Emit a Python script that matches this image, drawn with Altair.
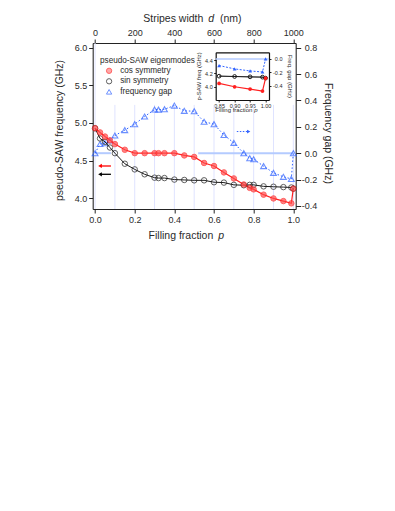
import altair as alt
import pandas as pd

# ---------------- data ----------------
p = [0.0, 0.025, 0.05, 0.075, 0.1, 0.15, 0.2, 0.25, 0.3, 0.32, 0.35, 0.4, 0.45, 0.5,
     0.55, 0.6, 0.65, 0.7, 0.75, 0.78, 0.8, 0.85, 0.9, 0.95, 0.99, 1.0]
cos_f = [4.93, 4.875, 4.82, 4.77, 4.72, 4.645, 4.60, 4.60, 4.60, 4.60, 4.60, 4.60, 4.57, 4.55,
         4.47, 4.43, 4.345, 4.265, 4.185, 4.14, 4.12, 4.05, 4.00, 3.965, 3.935, 4.13]
sin_f = [4.93, 4.795, 4.75, 4.675, 4.60, 4.46, 4.385, 4.32, 4.275, 4.27, 4.27, 4.25, 4.245, 4.24,
         4.24, 4.215, 4.21, 4.18, 4.175, 4.18, 4.18, 4.16, 4.155, 4.15, 4.145, 4.13]
gap = [0.0, 0.07, 0.076, 0.096, 0.134, 0.175, 0.22, 0.278, 0.331, 0.33, 0.333, 0.361, 0.321, 0.318,
       0.238, 0.22, 0.138, 0.078, 0.0, -0.038, -0.046, -0.098, -0.149, -0.179, -0.195, 0.0]

SERIES = ["cos symmetry", "sin symmetry", "frequency gap"]
x_ticks = [0.0, 0.2, 0.4, 0.6, 0.8, 1.0]
d_ticks = [0, 200, 400, 600, 800, 1000]
f_ticks = [4.0, 4.5, 5.0, 5.5, 6.0]
g_ticks = [-0.4, -0.2, 0.0, 0.2, 0.4, 0.6, 0.8]
inset_x_ticks = [0.85, 0.90, 0.95, 1.00]
inset_f_ticks = [4.0, 4.2, 4.4]
inset_g_ticks = [-0.4, -0.2, 0.0]

grid_d = [0, 100, 200, 300, 400, 500, 600, 700, 800, 900, 1000]
grid_top_f = [6.06, 5.24, 5.24, 5.24, 5.24, 5.24, 5.24, 5.24, 5.24, 5.24, 5.24]

zero_p_start = [0.0, 0.52]
zero_p_end = [0.08, 1.0]

arrow_tail_p = [0.08, 0.08]
arrow_head_p = [0.025, 0.025]
arrow_f = [4.43, 4.32]
arrow_col = ["red", "black"]
blue_arrow_tail_p = [0.715]
blue_arrow_head_p = [0.775]
blue_arrow_g = [0.164]

# ---------------- styles ----------------
FONT = "Liberation Sans"
RED = "#ff2020"
RED_FILL = "#ff5050"
BLACK = "#1a1a1a"
BLUE = "#2f62ff"
GRID = "#dfe3ff"
ZERO = "#b4cbff"
TXT = "#2a2a2a"
W, H = 203, 166
IX0, IX1, IYT, IYB = 123, 176.3, 9.3, 57

n = len(p)
freq_df = pd.DataFrame({"p": p + p, "f": sin_f + cos_f,
                        "series": ["sin symmetry"] * n + ["cos symmetry"] * n})
cos_df = pd.DataFrame({"p": p, "f": cos_f})
sin_df = pd.DataFrame({"p": p, "f": sin_f})
gap_df = pd.DataFrame({"p": p, "g": gap, "series": ["frequency gap"] * n})
grid_df = pd.DataFrame({"d": grid_d, "top": grid_top_f, "bot": [3.86] * len(grid_d)})
zero_df = pd.DataFrame({"p0": zero_p_start, "p1": zero_p_end, "g": [0.0, 0.0]})
arrow_df = pd.DataFrame({"p0": arrow_tail_p, "p1": arrow_head_p, "f": arrow_f, "c": arrow_col})
barrow_df = pd.DataFrame({"p0": blue_arrow_tail_p, "p1": blue_arrow_head_p, "g": blue_arrow_g})

in_cos = cos_df[cos_df.p >= 0.85]
in_sin = sin_df[sin_df.p >= 0.85]
in_gap = gap_df[gap_df.p >= 0.85]


def sc(domain, rng=None):
    if rng is None:
        return alt.Scale(domain=domain, nice=False, zero=False)
    return alt.Scale(domain=domain, range=rng, nice=False, zero=False)


X_MAIN = [-0.012, 1.012]
F_MAIN = [3.86, 6.06]
G_MAIN = [-0.423, 0.835]
D_MAIN = [-12, 1012]
X_IN = [0.839, 1.011]
F_IN = [3.80, 4.52]
G_IN = [-0.615, 0.10]

base_axis = dict(domainColor="#222", tickColor="#222", labelColor=TXT, labelFont=FONT,
                 labelFontSize=9, tickSize=4, grid=False, labelPadding=2, titleFont=FONT,
                 titleFontWeight="normal", titleFontSize=10.5, titleColor=TXT)
inset_axis = dict(base_axis, labelFontSize=5.5, tickSize=2, labelPadding=1, titleFontSize=6,
                  domainColor="#111", domainWidth=1.2)

minus = "replace(format(datum.value, '.1f'), '\u2212', '-')"

legend = alt.Legend(title="pseudo-SAW eigenmodes", orient="none", legendX=7.3, legendY=14,
                    titleFont=FONT, titleFontWeight="normal", titleFontSize=8.2, titleColor=TXT,
                    labelFont=FONT, labelFontSize=8.2, labelColor=TXT, symbolSize=28,
                    symbolStrokeWidth=1, rowPadding=0.5, padding=0, symbolOffset=5,
                    labelOffset=7, titlePadding=1.5)
stroke_enc = alt.Stroke("series:N", scale=alt.Scale(domain=SERIES, range=[RED, BLACK, BLUE]), legend=legend)
fill_enc = alt.Fill("series:N", scale=alt.Scale(domain=SERIES, range=[RED_FILL, "transparent", "transparent"]), legend=legend)
shape_enc = alt.Shape("series:N", scale=alt.Scale(domain=SERIES, range=["circle", "circle", "triangle-up"]), legend=legend)

layers = []

# grid (top d axis lives here)
layers.append(alt.Chart(grid_df).mark_rule(color=GRID, strokeWidth=1).encode(
    x=alt.X("d:Q", scale=sc(D_MAIN), axis=alt.Axis(orient="top", values=d_ticks, format="d", title=None, **base_axis)),
    y=alt.Y("top:Q", scale=sc(F_MAIN), axis=None),
    y2="bot:Q"))

# zero line of gap
layers.append(alt.Chart(zero_df).mark_rule(color=ZERO, strokeWidth=2).encode(
    x=alt.X("p0:Q", scale=sc(X_MAIN), axis=None), x2="p1:Q",
    y=alt.Y("g:Q", scale=sc(G_MAIN), axis=None)))

# gap dotted line + points (right axis)
layers.append(alt.Chart(gap_df).mark_line(color=BLUE, strokeWidth=1, strokeDash=[1.5, 2]).encode(
    x=alt.X("p:Q", scale=sc(X_MAIN), axis=None),
    y=alt.Y("g:Q", scale=sc(G_MAIN), axis=None)))
layers.append(alt.Chart(gap_df).mark_point(filled=True, size=34, strokeWidth=1.1).encode(
    x=alt.X("p:Q", scale=sc(X_MAIN), axis=None),
    y=alt.Y("g:Q", scale=sc(G_MAIN), axis=alt.Axis(orient="right", values=g_ticks, labelExpr=minus,
            title="Frequency gap  (GHz)", titleAngle=90, titleX=32, titleY=90, titleBaseline="middle",
            **dict(base_axis, tickSize=5, labelPadding=16, labelAlign="right"))),
    stroke=stroke_enc, fill=fill_enc, shape=shape_enc))

# frequency lines
layers.append(alt.Chart(sin_df).mark_line(color=BLACK, strokeWidth=1).encode(
    x=alt.X("p:Q", scale=sc(X_MAIN), axis=None),
    y=alt.Y("f:Q", scale=sc(F_MAIN), axis=None)))
layers.append(alt.Chart(cos_df).mark_line(color=RED, strokeWidth=1.2).encode(
    x=alt.X("p:Q", scale=sc(X_MAIN), axis=None),
    y=alt.Y("f:Q", scale=sc(F_MAIN), axis=None)))

# frequency points (main bottom + left axes)
layers.append(alt.Chart(freq_df).mark_point(filled=True, size=30, strokeWidth=1).encode(
    x=alt.X("p:Q", scale=sc(X_MAIN), axis=alt.Axis(orient="bottom", values=x_ticks, format=".1f", title=None, **base_axis)),
    y=alt.Y("f:Q", scale=sc(F_MAIN), axis=alt.Axis(orient="left", values=f_ticks, format=".1f",
            title="pseudo-SAW  frequency  (GHz)", titleX=-32.7, titleY=87, titleBaseline="middle", **base_axis)),
    stroke=stroke_enc, fill=fill_enc, shape=shape_enc))

# arrows
layers.append(alt.Chart(arrow_df).mark_rule(strokeWidth=1.3).encode(
    x=alt.X("p0:Q", scale=sc(X_MAIN), axis=None), x2="p1:Q",
    y=alt.Y("f:Q", scale=sc(F_MAIN), axis=None),
    color=alt.Color("c:N", scale=None, legend=None)))
layers.append(alt.Chart(arrow_df).mark_point(shape="triangle-left", filled=True, size=18, opacity=1).encode(
    x=alt.X("p1:Q", scale=sc(X_MAIN), axis=None),
    y=alt.Y("f:Q", scale=sc(F_MAIN), axis=None),
    color=alt.Color("c:N", scale=None, legend=None)))
layers.append(alt.Chart(barrow_df).mark_rule(strokeWidth=1, color=BLUE, strokeDash=[1.5, 1.5]).encode(
    x=alt.X("p0:Q", scale=sc(X_MAIN), axis=None), x2="p1:Q",
    y=alt.Y("g:Q", scale=sc(G_MAIN), axis=None)))
layers.append(alt.Chart(barrow_df).mark_point(shape="triangle-right", filled=True, size=14, color=BLUE, opacity=1).encode(
    x=alt.X("p1:Q", scale=sc(X_MAIN), axis=None),
    y=alt.Y("g:Q", scale=sc(G_MAIN), axis=None)))

# ---------------- inset ----------------
XI = sc(X_IN, [IX0, IX1])
FI = sc(F_IN, [IYB, IYT])
GI = sc(G_IN, [IYB, IYT])
layers.append(alt.Chart(pd.DataFrame({"g": [0.0]})).mark_rule(color=ZERO, strokeWidth=1.5).encode(
    x=alt.value(IX0), x2=alt.value(IX1),
    y=alt.Y("g:Q", scale=GI, axis=None)))
layers.append(alt.Chart(in_gap).mark_line(color=BLUE, strokeWidth=1, strokeDash=[2, 1.5], point=alt.OverlayMarkDef(shape="triangle-up", filled=True, size=14, color=BLUE)).encode(
    x=alt.X("p:Q", scale=XI, axis=alt.Axis(orient="top", offset=-IYT, labels=False, ticks=False, title=None, **inset_axis)),
    y=alt.Y("g:Q", scale=GI, axis=alt.Axis(orient="right", offset=-(W - IX1), values=inset_g_ticks, labelExpr=minus,
            title="Freq. gap (GHz)", titleAngle=90, titleX=21, titleY=32.8, titleBaseline="middle",
            **dict(inset_axis, labelPadding=11, labelAlign="right")))))
layers.append(alt.Chart(in_sin).mark_line(color=BLACK, strokeWidth=1.2, point=alt.OverlayMarkDef(shape="circle", filled=False, size=14, color=BLACK, strokeWidth=1)).encode(
    x=alt.X("p:Q", scale=XI, axis=None),
    y=alt.Y("f:Q", scale=FI, axis=None)))
layers.append(alt.Chart(in_cos).mark_line(color=RED, strokeWidth=1.2, point=alt.OverlayMarkDef(shape="circle", filled=True, size=14, color=RED)).encode(
    x=alt.X("p:Q", scale=XI, axis=alt.Axis(orient="bottom", offset=-(H - IYB), values=inset_x_ticks, format=".2f", title=None, **inset_axis)),
    y=alt.Y("f:Q", scale=FI, axis=alt.Axis(orient="left", offset=-IX0, values=inset_f_ticks, format=".1f",
            title="p-SAW  freq (GHz)", titleX=-16.7, titleY=32.8, titleBaseline="middle", **dict(inset_axis, labelPadding=1.5)))))

# ---------------- x titles with italic symbols ----------------
def txt(s, x, y, size, align, italic=False):
    return alt.Chart(pd.DataFrame({"t": [s]})).mark_text(
        font=FONT, fontSize=size, align=align, baseline="middle", color=TXT,
        fontStyle="italic" if italic else "normal").encode(
        x=alt.value(x), y=alt.value(y), text="t:N")

layers += [
    txt("Stripes width", 110.6, -23.7, 10.5, "right"),
    txt("d", 115.6, -23.7, 10.5, "left", True),
    txt("(nm)", 127.3, -23.7, 10.5, "left"),
    txt("Filling fraction", 120.6, 192.7, 10.5, "right"),
    txt("p", 125.6, 192.7, 10.5, "left", True),
    txt("Filling fraction", 159.6, 67, 6, "right"),
    txt("p", 161.6, 67, 6, "left", True),
]

chart = alt.layer(*layers).resolve_scale(x="independent", y="independent").properties(
    width=W, height=H,
    padding={"left": 84.7, "top": 35, "right": 91, "bottom": 290},
    autosize=alt.AutoSizeParams(type="none"),
).configure_view(stroke=None).configure(background="white")

chart.save("out.html", embed_options={"renderer": "svg", "actions": False})
